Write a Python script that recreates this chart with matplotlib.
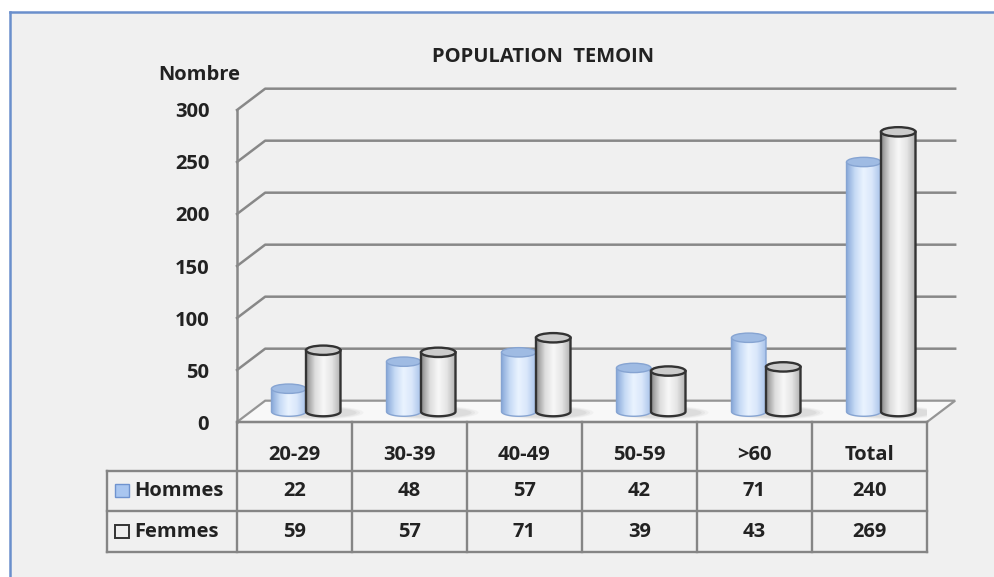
import numpy as np
import matplotlib
matplotlib.use("Agg")
import matplotlib.pyplot as plt
from matplotlib.patches import Polygon, Ellipse, Rectangle
from matplotlib.lines import Line2D
from matplotlib.colors import LinearSegmentedColormap

plt.rcParams['font.family'] = ['Open Sans', 'DejaVu Sans']

# data
categories = ['20-29', '30-39', '40-49', '50-59', '>60', 'Total']
hommes = [22, 48, 57, 42, 71, 240]
femmes = [59, 57, 71, 39, 43, 269]
yticks = [0, 50, 100, 150, 200, 250, 300]

W, H = 995, 577
fig = plt.figure(figsize=(W / 100, H / 100), dpi=100)
fig.patch.set_facecolor('white')

# panel background with blue frame on top/left
fig.patches.append(Rectangle((10 / W, 0), 1, 1 - 12 / H, transform=fig.transFigure,
                             fc='#f0f0f0', ec='none', zorder=-5))
fig.lines.append(Line2D([10 / W, 1], [1 - 12 / H, 1 - 12 / H], transform=fig.transFigure,
                        color='#6a8fcc', lw=1.8, zorder=-4))
fig.lines.append(Line2D([10 / W, 10 / W], [0, 1 - 12 / H], transform=fig.transFigure,
                        color='#6a8fcc', lw=1.8, zorder=-4))

ax = fig.add_axes([237 / W, 155 / H, 690 / W, 312 / H])
ax.patch.set_visible(False)
for s in ax.spines.values():
    s.set_visible(False)

n = len(categories)
x0, x1 = -0.5, n - 0.5
dx, dy = 0.245, 20.5          # depth of the 3d box
grid_c = '#888888'
fs = 14.5

# floor
floor = Polygon([(x0, 0), (x1, 0), (x1 + dx, dy), (x0 + dx, dy)], closed=True,
                fc='#f8f8f8', ec='#959595', lw=1.6, zorder=1, clip_on=False)
ax.add_patch(floor)

# wall gridlines
for v in yticks[1:]:
    ax.plot([x0, x0 + dx, x1 + dx], [v, v + dy, v + dy], color=grid_c, lw=1.8,
            zorder=1.5, clip_on=False)
ax.plot([x0, x0], [0, yticks[-1]], color=grid_c, lw=1.8, zorder=1.5, clip_on=False)

grad = np.linspace(0, 1, 64).reshape(1, -1)
cmap_h = LinearSegmentedColormap.from_list('h', ['#86a7d8', '#c6daf5', '#eaf3ff', '#d9e7fa', '#a9c3ea'])
cmap_f = LinearSegmentedColormap.from_list('f', ['#8a8a8a', '#dcdcdc', '#f8f8f8', '#e4e4e4', '#b0b0b0'])

w = 0.15
eh = 9.0
base = 10.0
shift = 0.1


def cylinder(c, val, cmap, edge, lw, top_fc, top_ec, z):
    top = base + val
    t = np.linspace(np.pi, 2 * np.pi, 50)
    arc = np.column_stack([c + w * np.cos(t), base + eh / 2 * np.sin(t)])
    pts = np.vstack([[c - w, top], arc, [c + w, top]])
    body = Polygon(pts, closed=True, fc='none', ec=edge, lw=lw, zorder=z + 0.05)
    ax.add_patch(body)
    im = ax.imshow(grad, cmap=cmap, extent=(c - w, c + w, base - eh / 2, top),
                   aspect='auto', zorder=z, interpolation='bilinear')
    im.set_clip_path(body)
    ax.add_patch(Ellipse((c, top), 2 * w, eh, fc=top_fc, ec=top_ec, lw=lw, zorder=z + 0.1))


for i in range(n):
    gc = i + shift
    # soft shadow on the floor
    for k, a in enumerate([0.06, 0.08, 0.1]):
        ax.add_patch(Ellipse((gc + 0.1, base - 1.0), 4 * w + 0.2 - 0.06 * k, eh + 4 - 1.5 * k,
                             fc='#808080', ec='none', alpha=a, zorder=2))
    cylinder(gc - w, hommes[i], cmap_h, '#86a4d2', 1.0, '#9fbbe3', '#86a4d2', 3)
    cylinder(gc + w, femmes[i], cmap_f, '#333333', 1.7, '#cccccc', '#333333', 4)

ax.set_xlim(x0, x1)
ax.set_ylim(0, 300)
ax.set_xticks([])
ax.set_yticks(yticks)
ax.tick_params(axis='y', length=0, pad=20, labelsize=fs)
for lbl in ax.get_yticklabels():
    lbl.set_fontweight('bold')
    lbl.set_color('#222222')

ax.text(-0.83, 334, 'Nombre', ha='center', va='center', fontsize=fs, fontweight='bold',
        color='#222222', clip_on=False)
fig.text(543 / W, 1 - 57 / H, 'POPULATION  TEMOIN', ha='center', va='center',
         fontsize=14.5, fontweight='bold', color='#222222')

# data table under the chart
rows = [0, -47.1, -85.6, -125.0]
lab_x = -1.63
tc = '#858585'
kw = dict(color=tc, lw=1.7, zorder=5, clip_on=False)
ax.plot([x0, x1], [rows[0], rows[0]], **kw)
for r in rows[1:]:
    ax.plot([lab_x, x1], [r, r], **kw)
for k in range(n + 1):
    ax.plot([x0 + k, x0 + k], [rows[0], rows[-1]], **kw)
ax.plot([lab_x, lab_x], [rows[1], rows[-1]], **kw)

tkw = dict(ha='center', va='center', fontsize=fs, fontweight='bold', color='#222222',
           clip_on=False)
for i in range(n):
    ax.text(i, -31.5, categories[i], **tkw)
    ax.text(i, (rows[1] + rows[2]) / 2, str(hommes[i]), **tkw)
    ax.text(i, (rows[2] + rows[3]) / 2, str(femmes[i]), **tkw)

ax.add_patch(Rectangle((-1.56, (rows[1] + rows[2]) / 2 - 6.2), 0.125, 12.5, fc='#a9c6f0',
                       ec='#6f93cf', lw=1.0, zorder=6, clip_on=False))
ax.add_patch(Rectangle((-1.56, (rows[2] + rows[3]) / 2 - 6.2), 0.125, 12.5, fc='#eeeeee',
                       ec='#333333', lw=1.4, zorder=6, clip_on=False))
lkw = dict(ha='left', va='center', fontsize=fs, fontweight='bold', color='#222222',
           clip_on=False)
ax.text(-1.39, (rows[1] + rows[2]) / 2, 'Hommes', **lkw)
ax.text(-1.39, (rows[2] + rows[3]) / 2, 'Femmes', **lkw)

fig.savefig('out.png', dpi=100)
